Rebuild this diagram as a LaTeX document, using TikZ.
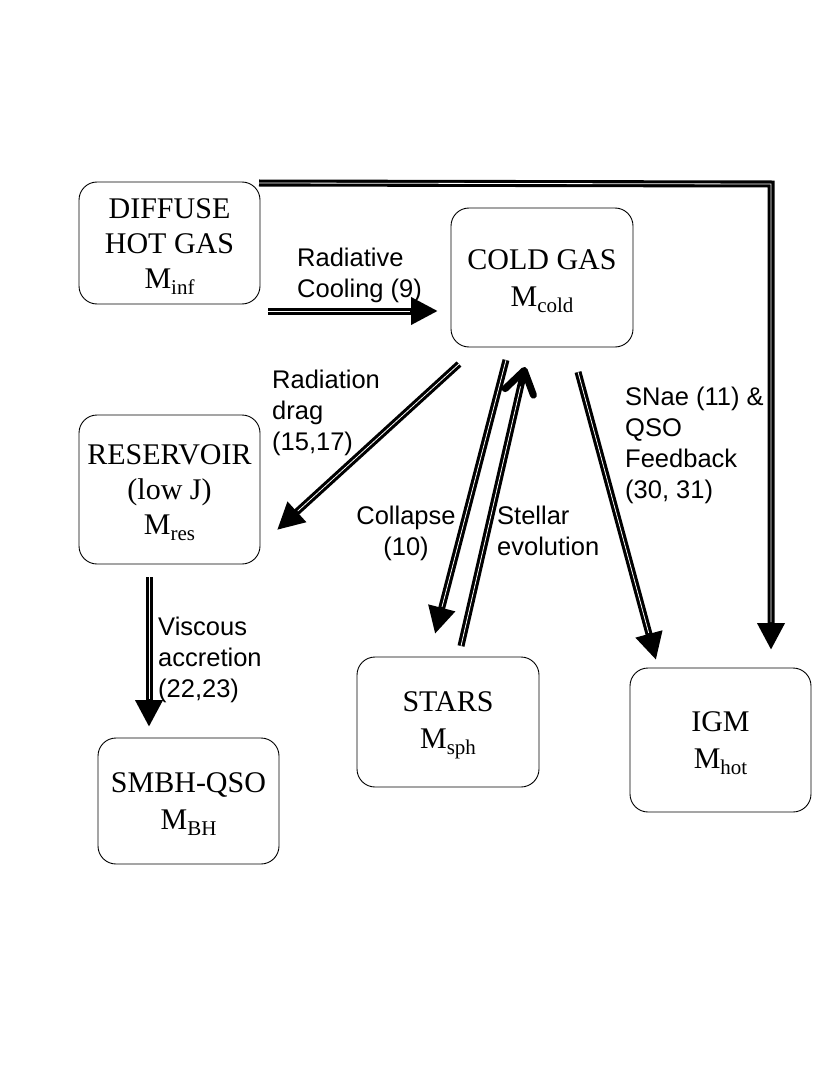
\documentclass[tikz,border=0pt]{standalone}
\usepackage{fontspec}
\setmainfont{Liberation Serif}
\setsansfont{Liberation Sans}
\usetikzlibrary{arrows.meta}
\newcommand\lowsub[1]{\raisebox{-6pt}{\fontsize{21}{21}\selectfont #1}}
\begin{document}
\begin{tikzpicture}[x=1pt,y=-1pt,
  box/.style={draw, line width=0.9pt, rounded corners=18pt, minimum width=181pt, inner sep=0pt},
  boxtext/.style={inner sep=0pt, align=center, font=\fontsize{30}{37}\selectfont},
  boxtextiii/.style={boxtext, font=\fontsize{30}{35}\selectfont},
  lbl/.style={inner sep=0pt, align=left, font=\sffamily\fontsize{25.5}{31}\selectfont},
  flow/.style={line width=7pt, -{Triangle[length=27pt,width=26pt]}},
  core/.style={white, line width=0.8pt, shorten >=28pt},
  barbflow/.style={line width=7pt, -{Straight Barb[length=22pt,width=29pt,round]}},
  barbcore/.style={white, line width=0.8pt, shorten >=20pt}]
\useasboundingbox (0,0) rectangle (831,1091);
\fill[white] (0,0) rectangle (831,1091);

% boxes
\node[box, minimum height=122pt] (diffuse) at (169.5,243) {};
\node[box, minimum width=182pt, minimum height=139pt] (cold) at (542,277.5) {};
\node[box, minimum height=149pt] (res) at (169.5,489.5) {};
\node[box, minimum height=126pt] (bh) at (188.5,801) {};
\node[box, minimum width=182pt, minimum height=130pt] (stars) at (448,722) {};
\node[box, minimum height=144pt] (igm) at (720.5,740) {};

% box texts
\node[boxtextiii] (diffusetxt) at ([yshift=-4pt]diffuse.center) {DIFFUSE\\HOT GAS\\M\lowsub{inf}};
\node[boxtext] (coldtxt) at ([yshift=-4pt]cold.center) {COLD GAS\\M\lowsub{cold}};
\node[boxtextiii] (restxt) at ([yshift=-3pt]res.center) {RESERVOIR\\(low J)\\M\lowsub{res}};
\node[boxtext] (bhtxt) at ([yshift=-3pt]bh.center) {SMBH-QSO\\M\lowsub{BH}};
\node[boxtext] (starstxt) at ([yshift=-3pt]stars.center) {STARS\\M\lowsub{sph}};
\node[boxtext] (igmtxt) at ([yshift=-3pt]igm.center) {IGM\\M\lowsub{hot}};

% connector end points
\coordinate (coolA) at (268,311);
\coordinate (coolB) at (438,311);
\coordinate (topA) at (259,183);
\coordinate (topC) at (771,184);
\coordinate (topB) at (771,650);
\coordinate (dragA) at (459,364);
\coordinate (dragB) at (277,530);
\coordinate (colA) at (506,360);
\coordinate (colB) at (435,634);
\coordinate (stA) at (461,646);
\coordinate (stB) at (525,367);
\coordinate (snA) at (578,372);
\coordinate (snB) at (656,660);
\coordinate (viscA) at (149,577);
\coordinate (viscB) at (149,727);

% connectors
\draw[flow] (coolA) -- (coolB);
\draw[core] (coolA) -- (coolB);
\draw[flow] (topA) -- (topC) -- (topB);
\draw[core] (topA) -- (topC) -- (topB);
\draw[flow] (dragA) -- (dragB);
\draw[core] (dragA) -- (dragB);
\draw[flow] (colA) -- (colB);
\draw[core] (colA) -- (colB);
\draw[barbflow] (stA) -- (stB);
\draw[barbcore] (stA) -- (stB);
\draw[flow] (snA) -- (snB);
\draw[core] (snA) -- (snB);
\draw[flow] (viscA) -- (viscB);
\draw[core] (viscA) -- (viscB);

% labels
\node[lbl, anchor=north west] (lcool) at (297,248) {Radiative\\Cooling (9)};
\node[lbl, anchor=north west] (ldrag) at (272,370) {Radiation\\drag\\(15,17)};
\node[lbl, anchor=north, align=center] (lcol) at (406,506) {Collapse\\(10)};
\node[lbl, anchor=north west] (lst) at (497,506) {Stellar\\evolution};
\node[lbl, anchor=north west] (lsn) at (625,387) {SNae (11) \&\\QSO\\Feedback\\(30, 31)};
\node[lbl, anchor=north west] (lvisc) at (158,617) {Viscous\\accretion\\(22,23)};
\end{tikzpicture}
\end{document}
